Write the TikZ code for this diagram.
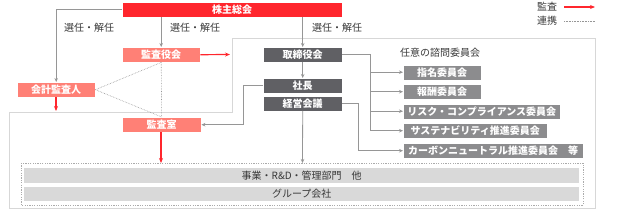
\documentclass[tikz,border=0pt]{standalone}
\usepackage{fontspec}
\setmainfont{Noto Sans CJK JP}
\usetikzlibrary{arrows.meta,calc}
\definecolor{cred}{RGB}{255,38,45}
\definecolor{csalmon}{RGB}{255,128,118}
\definecolor{cdark}{RGB}{96,96,100}
\definecolor{cmid}{RGB}{140,140,142}
\definecolor{cbar}{RGB}{217,217,217}
\definecolor{cline}{RGB}{150,150,150}
\definecolor{cframe}{RGB}{215,215,215}
\definecolor{ctext}{RGB}{55,55,55}
\tikzset{
  box/.style={anchor=north west, inner sep=0pt, text=white,
    font=\fontsize{10}{11}\selectfont\bfseries, draw=white, line width=0.4pt},
  redbox/.style={box, fill=cred},
  salbox/.style={box, fill=csalmon},
  darkbox/.style={box, fill=cdark},
  midbox/.style={box, fill=cmid},
  barbox/.style={anchor=north west, inner sep=0pt, fill=cbar, text=ctext,
    font=\fontsize{10}{11}\selectfont},
  conn/.style={draw=cline, line width=0.8pt, -{Stealth[length=4pt,width=3.5pt]}},
  plainconn/.style={draw=cline, line width=0.8pt},
  redarr/.style={draw=cred, line width=1.2pt, -{Stealth[length=5pt,width=4pt]}},
  dotconn/.style={draw=cline, line width=0.6pt, densely dotted},
  lbl/.style={text=ctext, font=\fontsize{10}{11}\selectfont, inner sep=0pt}
}
\begin{document}
\begin{tikzpicture}[x=1pt,y=-1pt]
\useasboundingbox (0,0) rectangle (640,223);
% frames
\draw[cframe, line width=0.9pt] (232,38) -- (595,38) -- (595,208) -- (9,208) -- (9,112) -- (232,112) -- cycle;
\draw[cline!80, line width=0.7pt, dash pattern=on 1.2pt off 1.2pt] (21,163) rectangle (583,205);
% bars
\node[barbox, minimum width=555pt, minimum height=15pt] (bar1) at (24,168) {事業・R\&D・管理部門　他};
\node[barbox, minimum width=555pt, minimum height=14pt] (bar2) at (24,187) {グループ会社};
% boxes
\node[redbox, minimum width=220pt, minimum height=15pt] (kabu) at (122,2) {株主総会};
\node[salbox, minimum width=78pt, minimum height=15pt] (kansayaku) at (122,47) {監査役会};
\node[salbox, minimum width=78pt, minimum height=15pt] (kaikei) at (17,82) {会計監査人};
\node[salbox, minimum width=79pt, minimum height=15pt] (kansashitsu) at (122,117) {監査室};
\node[darkbox, minimum width=79pt, minimum height=15pt] (tori) at (263,47) {取締役会};
\node[darkbox, minimum width=79pt, minimum height=15pt] (shacho) at (263,78) {社長};
\node[darkbox, minimum width=79pt, minimum height=15pt] (keiei) at (263,95.5) {経営会議};
\node[lbl, anchor=center] (nini) at (440,53) {任意の諮問委員会};
\node[midbox, minimum width=78pt, minimum height=15pt] (shimei) at (403,64.5) {指名委員会};
\node[midbox, minimum width=78pt, minimum height=15pt] (hoshu) at (403,84) {報酬委員会};
\node[midbox, minimum width=157pt, minimum height=15pt] (risk) at (403,103.5) {リスク・コンプライアンス委員会};
\node[midbox, minimum width=144pt, minimum height=15pt] (sus) at (403,123) {サステナビリティ推進委員会};
\node[midbox, minimum width=180pt, minimum height=15pt] (carbon) at (403,143) {カーボンニュートラル推進委員会　等};
% labels
\node[lbl] (l1) at (89,28) {選任・解任};
\node[lbl] (l2) at (195,28) {選任・解任};
\node[lbl] (l3) at (337,28) {選任・解任};
% legend
\node[lbl, anchor=west] (lg1) at (537,7) {監査};
\node[lbl, anchor=west] (lg2) at (537,21) {連携};
\coordinate (lg1a) at (564,7);
\coordinate (lg1b) at (595,7);
\coordinate (lg2a) at (564,21);
\coordinate (lg2b) at (595,21);
\draw[redarr] (lg1a) -- (lg1b);
\draw[dotconn] (lg2a) -- (lg2b);
% coordinates on frames
\coordinate (frameL) at (230,54.5);
\coordinate (frameB) at (56,111);
\coordinate (dfA) at (161,163);
\coordinate (dfB) at (302.5,163);
\coordinate (bx) at (370,0);
\coordinate (cx) at (358,0);
\coordinate (sx) at (243,0);
% connectors
\draw[conn] (kabu.west) -| (kaikei.north);
\draw[conn] (kabu.south -| kansayaku.north) -- (kansayaku.north);
\draw[conn] (kabu.south -| tori.north) -- (tori.north);
\draw[redarr] (kansayaku.east) -- (frameL);
\draw[redarr] (kaikei.south -| frameB) -- (frameB);
\draw[redarr] (kansashitsu.south -| dfA) -- (dfA);
\draw[dotconn] (kaikei.east) -- (kansayaku.south);
\draw[dotconn] (kaikei.east) -- (kansashitsu.north);
\draw[dotconn] (kansayaku.south) -- (kansashitsu.north);
\draw[conn] (tori.south) -- (shacho.north);
\draw[conn] (shacho.west) -| (sx |- kansashitsu.east) -- (kansashitsu.east);
\draw[conn] (keiei.south) -- (dfB);
\draw[plainconn] (tori.east) -| (bx |- sus.west);
\draw[conn] (bx |- shimei.west) -- (shimei.west);
\draw[conn] (bx |- hoshu.west) -- (hoshu.west);
\draw[conn] (bx |- risk.west) -- (risk.west);
\draw[conn] (bx |- sus.west) -- (sus.west);
\draw[conn] (keiei.east) -| (cx |- carbon.west) -- (carbon.west);
\end{tikzpicture}
\end{document}
